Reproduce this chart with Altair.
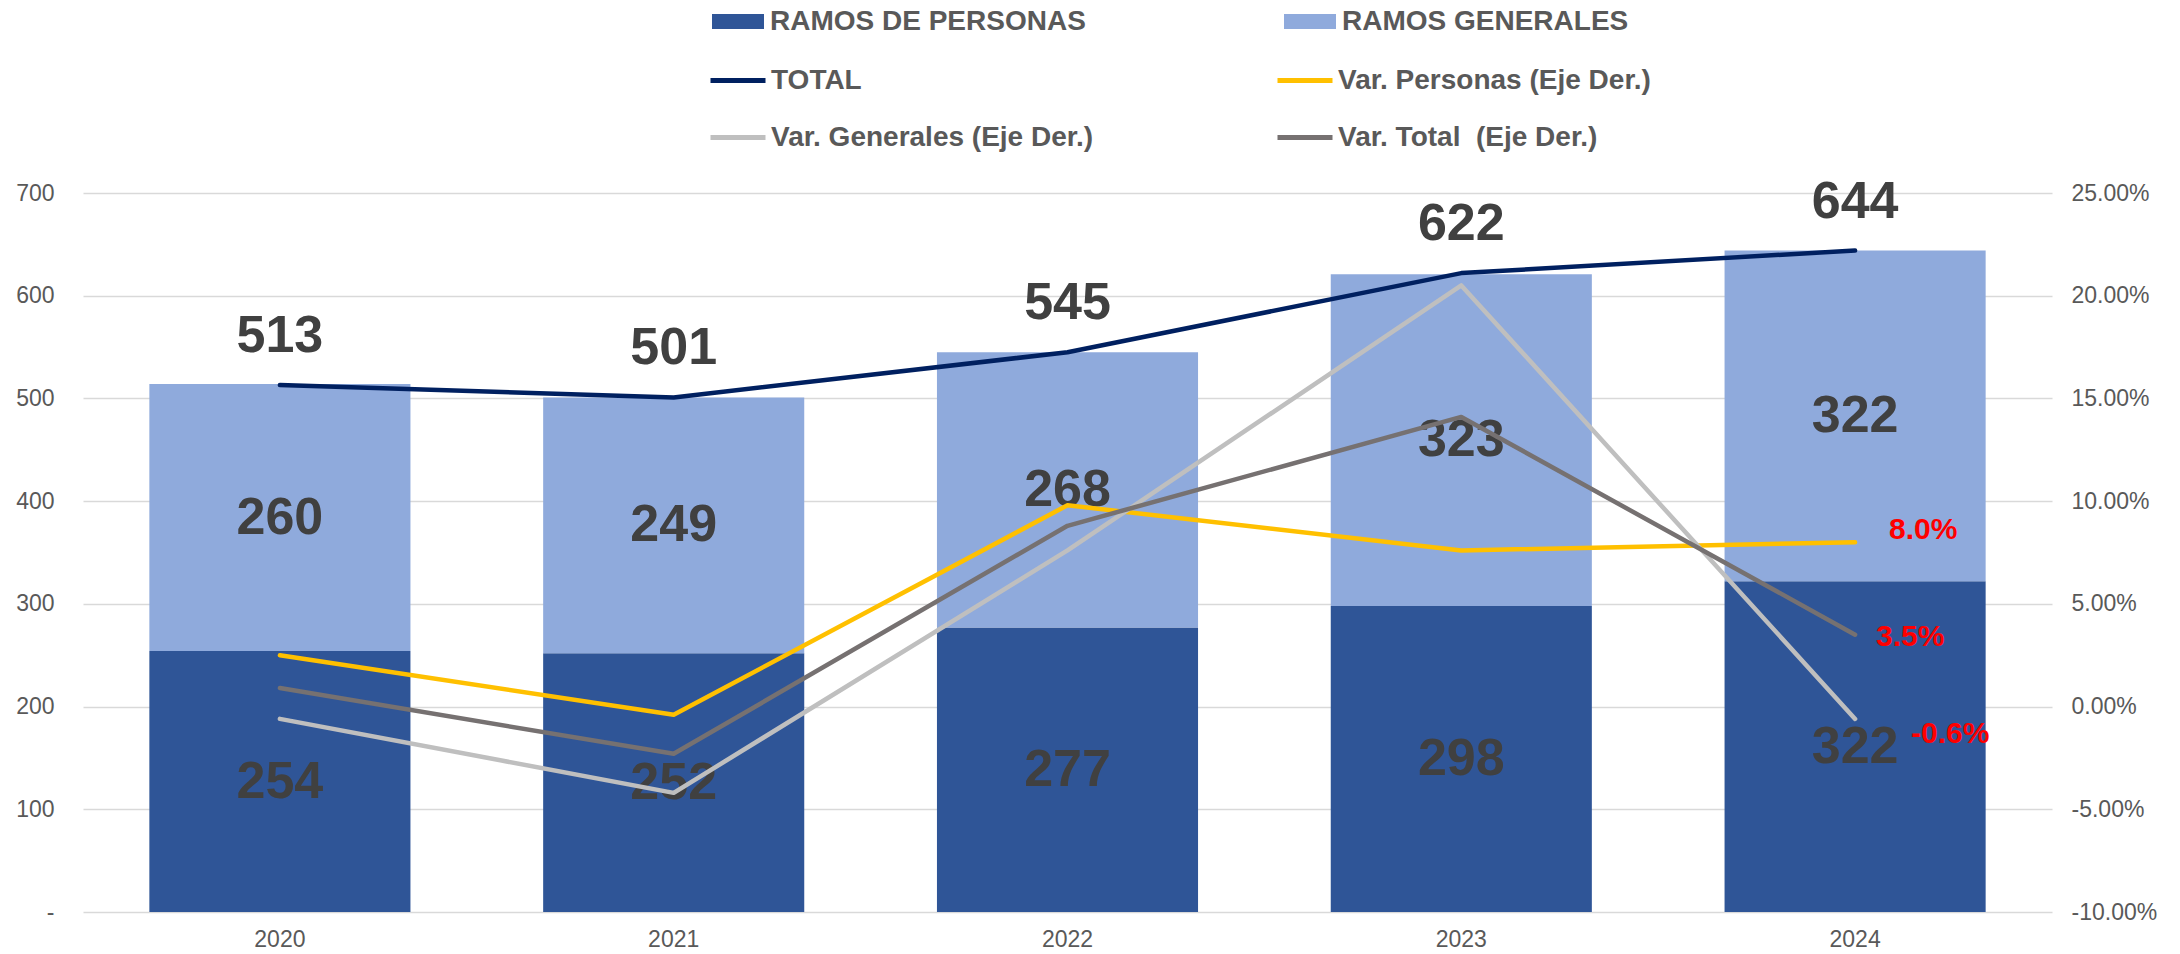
import altair as alt
import pandas as pd

# ---------------- data ----------------
years = ["2020", "2021", "2022", "2023", "2024"]
personas = [254, 252, 277, 298, 322]
generales = [260, 249, 268, 323, 322]
total = [513, 501, 545, 622, 644]
var_personas = [2.5, -0.4, 9.8, 7.6, 8.0]
var_generales = [-0.6, -4.2, 7.6, 20.5, -0.6]
var_total = [0.9, -2.3, 8.8, 14.1, 3.5]

BAR_NAMES = ["RAMOS DE PERSONAS", "RAMOS GENERALES"]
BAR_COLORS = ["#2F5597", "#8FAADC"]
LINE_NAMES = ["TOTAL", "Var. Personas (Eje Der.)", "Var. Generales (Eje Der.)",
              "Var. Total\u00a0 (Eje Der.)"]
LINE_COLORS = ["#002060", "#FFC000", "#BFBFBF", "#767171"]

FONT = "Liberation Sans"
AXIS_SIZE = 23

# ---------------- tables built from the arrays ----------------
bar_rows = []
for i, y in enumerate(years):
    bar_rows.append(dict(year=y, serie=BAR_NAMES[0], value=personas[i],
                         start=0, end=personas[i], mid=personas[i] / 2))
    bar_rows.append(dict(year=y, serie=BAR_NAMES[1], value=generales[i],
                         start=personas[i], end=personas[i] + generales[i],
                         mid=personas[i] + generales[i] / 2))
bars_df = pd.DataFrame(bar_rows)

tot_df = pd.DataFrame(dict(year=years, total=total, serie=LINE_NAMES[0]))

var_rows = []
for name, series in zip(LINE_NAMES[1:], [var_personas, var_generales, var_total]):
    for y, v in zip(years, series):
        var_rows.append(dict(year=y, serie=name, pct=v))
var_df = pd.DataFrame(var_rows)

# ---------------- shared encodings ----------------
x_enc = alt.X(
    "year:N",
    sort=years,
    title=None,
    scale=alt.Scale(paddingInner=0.337, paddingOuter=0.1685),
    axis=alt.Axis(labelAngle=0, labelFont=FONT, labelFontSize=AXIS_SIZE, labelColor="#595959",
                  labelPadding=16, ticks=False, domain=False, grid=False),
)

left_scale = alt.Scale(domain=[0, 700], nice=False, zero=True)
left_axis = alt.Axis(
    title=None, values=[0, 100, 200, 300, 400, 500, 600, 700],
    labelExpr="datum.value === 0 ? '-\u00a0\u00a0' : datum.label",
    labelFont=FONT, labelFontSize=AXIS_SIZE, labelColor="#595959", labelPadding=29,
    ticks=False, domain=False, grid=True, gridColor="#D9D9D9", gridWidth=1.5,
)

right_scale = alt.Scale(domain=[-10, 25], nice=False, zero=False)
right_axis = alt.Axis(
    title=None, orient="right", values=[-10, -5, 0, 5, 10, 15, 20, 25],
    labelExpr="(datum.value < 0 ? '-' : '') + format(abs(datum.value), '.2f') + '%'",
    labelFont=FONT, labelFontSize=AXIS_SIZE, labelColor="#595959", labelPadding=19,
    ticks=False, domain=False, grid=False,
)

fill_legend = alt.Legend(
    title=None, orient="none", legendX=629, legendY=-197.5, direction="horizontal",
    columns=2, columnPadding=198, rowPadding=0, padding=0,
    symbolType="M-1,-0.2885H1V0.2885H-1Z", symbolSize=2704, symbolStrokeWidth=0,
    labelFont=FONT, labelFontSize=28, labelFontWeight="bold", labelColor="#595959",
    labelOffset=6, labelLimit=1000,
)

stroke_legend = alt.Legend(
    title=None, orient="none", legendX=625, legendY=-142.5, direction="horizontal",
    columns=2, columnPadding=173, rowPadding=13, padding=0,
    symbolType="stroke", symbolSize=3025, symbolStrokeWidth=5,
    labelFont=FONT, labelFontSize=28, labelFontWeight="bold", labelColor="#595959",
    labelOffset=3, labelLimit=1000,
)

stroke_enc = alt.Stroke("serie:N", scale=alt.Scale(domain=LINE_NAMES, range=LINE_COLORS),
                        legend=stroke_legend)

# ---------------- left-axis layer ----------------
bars = alt.Chart(bars_df).mark_bar().encode(
    x=x_enc,
    y=alt.Y("start:Q", scale=left_scale, axis=left_axis),
    y2="end:Q",
    fill=alt.Fill("serie:N", scale=alt.Scale(domain=BAR_NAMES, range=BAR_COLORS),
                  legend=fill_legend),
)

bar_labels = alt.Chart(bars_df).mark_text(
    font=FONT, fontSize=52, fontWeight="bold", color="#404040", baseline="middle"
).encode(
    x=x_enc,
    y=alt.Y("mid:Q", scale=left_scale, axis=left_axis),
    text=alt.Text("value:Q", format="d"),
)

total_line = alt.Chart(tot_df).mark_line(
    strokeWidth=4.5, strokeCap="round", strokeJoin="round"
).encode(
    x=x_enc,
    y=alt.Y("total:Q", scale=left_scale, axis=left_axis),
    stroke=stroke_enc,
)

total_labels = alt.Chart(tot_df).mark_text(
    font=FONT, fontSize=52, fontWeight="bold", color="#404040", baseline="middle", dy=-49
).encode(
    x=x_enc,
    y=alt.Y("total:Q", scale=left_scale, axis=left_axis),
    text=alt.Text("total:Q", format="d"),
)

left = alt.layer(bars, bar_labels, total_line, total_labels)

# ---------------- right-axis layer ----------------
var_lines = alt.Chart(var_df).mark_line(
    strokeWidth=4.5, strokeCap="round", strokeJoin="round"
).encode(
    x=x_enc,
    y=alt.Y("pct:Q", scale=right_scale, axis=right_axis),
    stroke=stroke_enc,
    detail="serie:N",
)

last_year = years[-1]
offsets = {
    LINE_NAMES[1]: (34, -12),
    LINE_NAMES[2]: (56, 15),
    LINE_NAMES[3]: (21, 2),
}
red_layers = []
for name, (dx, dy) in offsets.items():
    sub = var_df[(var_df.serie == name) & (var_df.year == last_year)]
    red_layers.append(
        alt.Chart(sub).mark_text(
            font=FONT, fontSize=30, fontWeight="bold", color="#FF0000",
            align="left", baseline="middle", dx=dx, dy=dy,
        ).transform_calculate(
            lab="(datum.pct < 0 ? '-' : '') + format(abs(datum.pct), '.1f') + '%'"
        ).encode(
            x=x_enc,
            y=alt.Y("pct:Q", scale=right_scale, axis=right_axis),
            text="lab:N",
        )
    )

right = alt.layer(var_lines, *red_layers)

chart = alt.layer(left, right).resolve_scale(y="independent").properties(
    width=1969,
    height=719,
    autosize="none",
    padding={"left": 83, "top": 193, "right": 128, "bottom": 42},
    background="white",
).configure_view(stroke=None)

chart.save("out.html", embed_options={"renderer": "svg", "actions": False})
